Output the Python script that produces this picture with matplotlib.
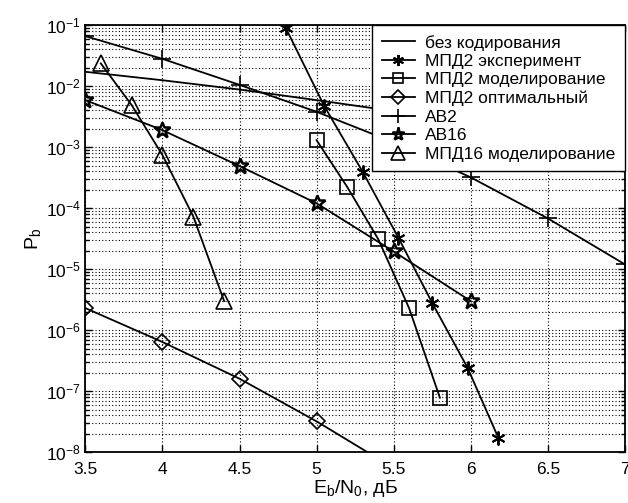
import matplotlib
matplotlib.use("Agg")
import matplotlib.pyplot as plt
from matplotlib.ticker import FixedLocator, LogLocator, NullFormatter

plt.rcParams['font.family'] = ['Liberation Sans', 'DejaVu Sans']
plt.rcParams['mathtext.fontset'] = 'custom'
plt.rcParams['mathtext.rm'] = 'Liberation Sans'
plt.rcParams['mathtext.it'] = 'Liberation Sans:italic'
plt.rcParams['mathtext.bf'] = 'Liberation Sans:bold'

# ---- data ----
x_uncoded = [3.5, 4.0, 4.5, 5.0, 5.5, 6.0, 6.5, 7.0]
p_uncoded = [0.0172, 0.0125, 0.0088, 0.0059, 0.0039, 0.0024, 0.0015, 7.7e-4]

x_mpd2_exp = [4.8, 5.05, 5.3, 5.53, 5.75, 5.98, 6.18]
p_mpd2_exp = [0.09, 4.7e-3, 3.9e-4, 3.3e-5, 2.8e-6, 2.4e-7, 1.7e-8]

x_mpd2_sim = [5.0, 5.2, 5.4, 5.6, 5.8]
p_mpd2_sim = [1.3e-3, 2.2e-4, 3.1e-5, 2.3e-6, 7.8e-8]

x_mpd2_opt = [3.5, 4.0, 4.5, 5.0, 5.5]
p_mpd2_opt = [2.3e-6, 6.4e-7, 1.6e-7, 3.2e-8, 5.5e-9]

x_ab2 = [3.5, 4.0, 4.5, 5.0, 5.5, 6.0, 6.5, 7.0]
p_ab2 = [0.066, 0.028, 0.0105, 3.8e-3, 1.2e-3, 3.2e-4, 6.8e-5, 1.2e-5]

x_ab16 = [3.5, 4.0, 4.5, 5.0, 5.5, 6.0]
p_ab16 = [5.9e-3, 1.9e-3, 4.9e-4, 1.2e-4, 1.95e-5, 3.0e-6]

x_mpd16 = [3.6, 3.8, 4.0, 4.2, 4.4]
p_mpd16 = [0.0236, 4.9e-3, 7.4e-4, 7.3e-5, 3.0e-6]

labels = ['без кодирования', 'МПД2 эксперимент', 'МПД2 моделирование',
          'МПД2 оптимальный', 'АВ2', 'АВ16', 'МПД16 моделирование']
x_ticks = [3.5, 4, 4.5, 5, 5.5, 6, 6.5, 7]
x_ticklabels = ['3.5', '4', '4.5', '5', '5.5', '6', '6.5', '7']
y_exps = [-8, -7, -6, -5, -4, -3, -2, -1]

fig = plt.figure(figsize=(6.28, 5.03), dpi=100)
ax = fig.add_axes([0.136, 0.101, 0.859, 0.849])

lw = 1.3
ax.plot(x_uncoded, p_uncoded, '-', color='k', lw=lw, label=labels[0])
ax.plot(x_mpd2_exp, p_mpd2_exp, '-', color='k', lw=lw, marker=(6, 2, 0),
        ms=10, mew=1.4, label=labels[1])
ax.plot(x_mpd2_sim, p_mpd2_sim, '-', color='k', lw=lw, marker='s', ms=9.5,
        mfc='none', mew=1.2, label=labels[2])
ax.plot(x_mpd2_opt, p_mpd2_opt, '-', color='k', lw=lw, marker='D', ms=8.5,
        mfc='none', mew=1.2, label=labels[3])
ax.plot(x_ab2, p_ab2, '-', color='k', lw=lw, marker='+', ms=13, mew=1.2,
        label=labels[4])
ax.plot(x_ab16, p_ab16, '-', color='k', lw=lw, marker='*', ms=12,
        mfc='none', mew=1.8, label=labels[5])
ax.plot(x_mpd16, p_mpd16, '-', color='k', lw=lw, marker='^', ms=12,
        mfc='none', mew=1.2, label=labels[6])

ax.set_yscale('log')
ax.set_xlim(3.5, 7)
ax.set_ylim(1e-8, 1e-1)
ax.xaxis.set_major_locator(FixedLocator(x_ticks))
ax.set_xticklabels(x_ticklabels)
ax.yaxis.set_major_locator(FixedLocator([10.0 ** e for e in y_exps]))
ax.set_yticklabels([r'$10^{%d}$' % e for e in y_exps])
ax.yaxis.set_minor_locator(LogLocator(base=10, subs=range(2, 10), numticks=50))
ax.yaxis.set_minor_formatter(NullFormatter())

ax.grid(True, which='major', axis='both', color='k', ls=(0, (1, 2)), lw=0.8)
ax.grid(True, which='minor', axis='y', color='k', ls=(0, (1, 2)), lw=0.8)
ax.tick_params(which='both', direction='in', top=True, right=True,
               labelsize=12.5, width=1)
ax.tick_params(axis='x', which='major', pad=7)
ax.tick_params(which='major', length=5)
ax.tick_params(which='minor', length=3)
for s in ax.spines.values():
    s.set_linewidth(1.3)

ax.set_xlabel(r'E$_\mathrm{b}$/N$_\mathrm{0}$, дБ', fontsize=14, labelpad=1)
ax.set_ylabel(r'P$_\mathrm{b}$', fontsize=14, labelpad=2)

leg = ax.legend(loc='upper right', fontsize=12.5, frameon=True, fancybox=False,
                edgecolor='k', framealpha=1, borderaxespad=0,
                labelspacing=0.19, handlelength=1.9, handletextpad=0.6,
                borderpad=0.55)
leg.get_frame().set_linewidth(1.0)
for h in leg.legend_handles:
    h.set_markersize(h.get_markersize() * 0.8)

fig.savefig('out.png', dpi=100)
